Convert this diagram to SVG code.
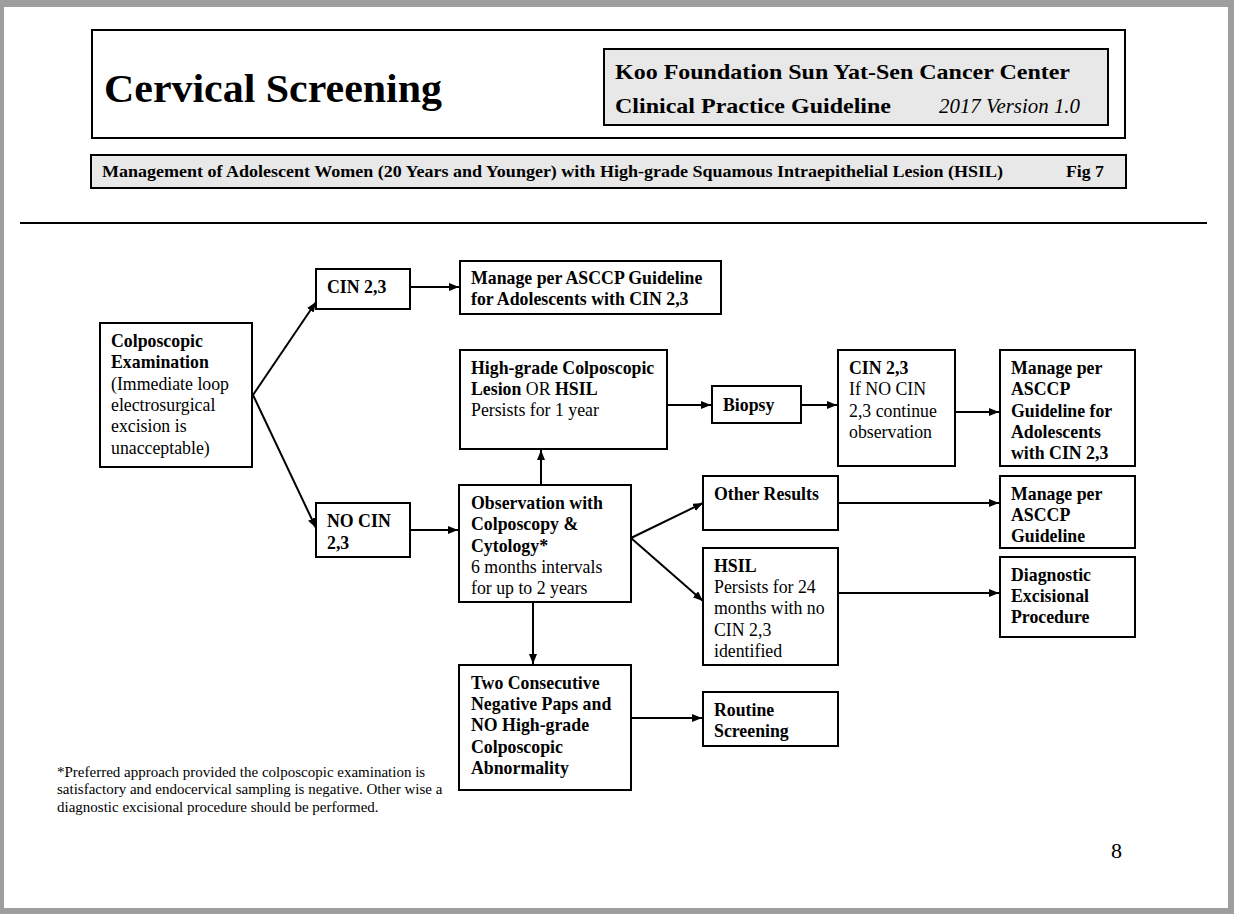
<svg xmlns="http://www.w3.org/2000/svg" width="1234" height="914" viewBox="0 0 1234 914">
<defs>
<marker id="ah" viewBox="0 0 10 8" refX="10" refY="4" markerWidth="10" markerHeight="8" markerUnits="userSpaceOnUse" orient="auto">
<path d="M0,0 L10,4 L0,8 Z" fill="#000"/>
</marker>
<style>
.box{fill:#fff;stroke:#000;stroke-width:2}
.hbox{fill:#e8e8e8;stroke:#000;stroke-width:2}
text{font-family:"Liberation Serif","Times New Roman",serif;fill:#000}
.t{font-size:17.8px}
.b{font-weight:bold}
.c{stroke:#000;stroke-width:2;fill:none;marker-end:url(#ah)}
.fn{font-size:15px}
</style>
</defs>
<rect x="0" y="0" width="1234" height="914" fill="#9e9e9e"/>
<rect x="4" y="7" width="1224" height="901" fill="#fff"/>

<g id="header">
<rect x="92" y="30" width="1033" height="108" fill="#fff" stroke="#000" stroke-width="2"/>
<text x="104" y="102" font-size="40" font-weight="bold" textLength="338" lengthAdjust="spacingAndGlyphs">Cervical Screening</text>
<rect class="hbox" x="604" y="49" width="504" height="76"/>
<text x="615" y="79" font-size="22" font-weight="bold" textLength="455" lengthAdjust="spacingAndGlyphs">Koo Foundation Sun Yat-Sen Cancer Center</text>
<text x="615" y="113" font-size="22" font-weight="bold" textLength="276" lengthAdjust="spacingAndGlyphs">Clinical Practice Guideline</text>
<text x="939" y="113" font-size="20" font-style="italic" textLength="141" lengthAdjust="spacingAndGlyphs">2017 Version 1.0</text>
</g>

<g id="subheader">
<rect class="hbox" x="91" y="155" width="1035" height="33"/>
<text x="102" y="177" font-size="16" font-weight="bold" textLength="901" lengthAdjust="spacingAndGlyphs">Management of Adolescent Women (20 Years and Younger) with High-grade Squamous Intraepithelial Lesion (HSIL)</text>
<text x="1066" y="177" font-size="16" font-weight="bold" textLength="38" lengthAdjust="spacingAndGlyphs">Fig 7</text>
</g>

<line x1="20" y1="223" x2="1207" y2="223" stroke="#000" stroke-width="2"/>

<g id="connectors">
<line class="c" x1="253" y1="395" x2="316" y2="302"/>
<line class="c" x1="253" y1="395" x2="316" y2="528"/>
<line class="c" x1="410" y1="287" x2="459" y2="287"/>
<line class="c" x1="410" y1="530" x2="458" y2="530"/>
<line class="c" x1="541" y1="485" x2="541" y2="450"/>
<line class="c" x1="667" y1="405" x2="711" y2="405"/>
<line class="c" x1="801" y1="405" x2="837" y2="405"/>
<line class="c" x1="955" y1="412" x2="999" y2="412"/>
<line class="c" x1="631" y1="538" x2="703" y2="503"/>
<line class="c" x1="631" y1="538" x2="703" y2="601"/>
<line class="c" x1="838" y1="503" x2="999" y2="503"/>
<line class="c" x1="838" y1="593" x2="999" y2="593"/>
<line class="c" x1="533" y1="602" x2="533" y2="664"/>
<line class="c" x1="631" y1="718" x2="702" y2="718"/>
</g>

<g id="colposcopic">
<rect class="box" x="100" y="323" width="152" height="144"/>
<text class="t" x="111"><tspan class="b" x="111" y="347">Colposcopic</tspan><tspan class="b" x="111" y="368">Examination</tspan><tspan x="111" y="390">(Immediate loop</tspan><tspan x="111" y="411">electrosurgical</tspan><tspan x="111" y="432">excision is</tspan><tspan x="111" y="454">unacceptable)</tspan></text>
</g>

<g id="cin23">
<rect class="box" x="316" y="269" width="94" height="40"/>
<text class="t b" x="327" y="293">CIN 2,3</text>
</g>

<g id="nocin">
<rect class="box" x="316" y="503" width="94" height="54"/>
<text class="t b"><tspan x="327" y="527">NO CIN</tspan><tspan x="327" y="549">2,3</tspan></text>
</g>

<g id="manage-adol-top">
<rect class="box" x="460" y="261" width="261" height="53"/>
<text class="t b"><tspan x="471" y="284">Manage per ASCCP Guideline</tspan><tspan x="471" y="305">for Adolescents with CIN 2,3</tspan></text>
</g>

<g id="highgrade">
<rect class="box" x="460" y="350" width="207" height="99"/>
<text class="t"><tspan x="471" y="374" class="b">High-grade Colposcopic</tspan><tspan x="471" y="395"><tspan class="b">Lesion</tspan> OR <tspan class="b">HSIL</tspan></tspan><tspan x="471" y="416">Persists for 1 year</tspan></text>
</g>

<g id="biopsy">
<rect class="box" x="712" y="386" width="89" height="37"/>
<text class="t b" x="723" y="411">Biopsy</text>
</g>

<g id="cin23-biopsy">
<rect class="box" x="838" y="350" width="117" height="116"/>
<text class="t"><tspan class="b" x="849" y="374">CIN 2,3</tspan><tspan x="849" y="395">If NO CIN</tspan><tspan x="849" y="417">2,3 continue</tspan><tspan x="849" y="438">observation</tspan></text>
</g>

<g id="manage-adol">
<rect class="box" x="1000" y="350" width="135" height="116"/>
<text class="t b"><tspan x="1011" y="374">Manage per</tspan><tspan x="1011" y="395">ASCCP</tspan><tspan x="1011" y="417">Guideline for</tspan><tspan x="1011" y="438">Adolescents</tspan><tspan x="1011" y="459">with CIN 2,3</tspan></text>
</g>

<g id="observation">
<rect class="box" x="459" y="485" width="172" height="117"/>
<text class="t"><tspan class="b" x="471" y="509">Observation with</tspan><tspan class="b" x="471" y="530">Colposcopy &amp;</tspan><tspan class="b" x="471" y="552">Cytology*</tspan><tspan x="471" y="573">6 months intervals</tspan><tspan x="471" y="594">for up to 2 years</tspan></text>
</g>

<g id="other-results">
<rect class="box" x="703" y="476" width="135" height="54"/>
<text class="t b" x="714" y="500">Other Results</text>
</g>

<g id="manage-asccp">
<rect class="box" x="1000" y="476" width="135" height="72"/>
<text class="t b"><tspan x="1011" y="500">Manage per</tspan><tspan x="1011" y="521">ASCCP</tspan><tspan x="1011" y="542">Guideline</tspan></text>
</g>

<g id="hsil">
<rect class="box" x="703" y="548" width="135" height="117"/>
<text class="t"><tspan class="b" x="714" y="572">HSIL</tspan><tspan x="714" y="593">Persists for 24</tspan><tspan x="714" y="614">months with no</tspan><tspan x="714" y="636">CIN 2,3</tspan><tspan x="714" y="657">identified</tspan></text>
</g>

<g id="diagnostic">
<rect class="box" x="1000" y="557" width="135" height="80"/>
<text class="t b"><tspan x="1011" y="581">Diagnostic</tspan><tspan x="1011" y="602">Excisional</tspan><tspan x="1011" y="623">Procedure</tspan></text>
</g>

<g id="two-negative">
<rect class="box" x="459" y="665" width="172" height="125"/>
<text class="t b"><tspan x="471" y="689">Two Consecutive</tspan><tspan x="471" y="710">Negative Paps and</tspan><tspan x="471" y="731">NO High-grade</tspan><tspan x="471" y="753">Colposcopic</tspan><tspan x="471" y="774">Abnormality</tspan></text>
</g>

<g id="routine">
<rect class="box" x="703" y="692" width="135" height="54"/>
<text class="t b"><tspan x="714" y="716">Routine</tspan><tspan x="714" y="737">Screening</tspan></text>
</g>

<g id="footnote">
<text class="fn"><tspan x="57" y="777">*Preferred approach provided the colposcopic examination is</tspan><tspan x="57" y="794">satisfactory and endocervical sampling is negative. Other wise a</tspan><tspan x="57" y="812">diagnostic excisional procedure should be performed.</tspan></text>
</g>

<text x="1111" y="858" font-size="22">8</text>
</svg>
